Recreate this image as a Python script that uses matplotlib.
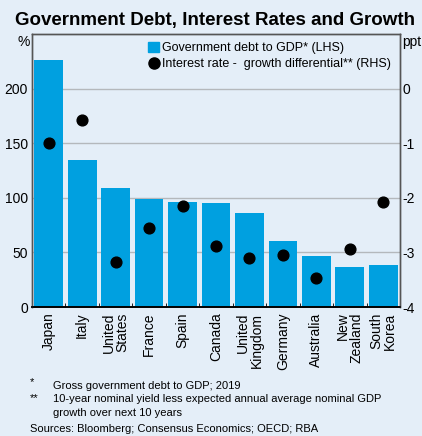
"""
Government debt vs interest rate - growth differential, RBA style chart.
"""
import numpy as np
import matplotlib.pyplot as plt
from matplotlib.lines import Line2D
from matplotlib.patches import Patch

plt.rcParams['font.family'] = ['Liberation Sans', 'DejaVu Sans']

countries = ['Japan', 'Italy', 'United\nStates', 'France', 'Spain', 'Canada',
             'United\nKingdom', 'Germany', 'Australia', 'New\nZealand', 'South\nKorea']
debt_to_gdp = [226, 135, 109, 98.5, 96, 95, 86, 60, 46.5, 37, 38.5]
rate_growth_diff = [-1.0, -0.58, -3.17, -2.56, -2.15, -2.88, -3.10, -3.05, -3.46, -2.93, -2.07]

BG = '#E4EEF8'
BAR = '#00A0E0'
FRAME = '#555555'

fig = plt.figure(figsize=(4.22, 4.36), dpi=100, facecolor=BG)
ax = fig.add_axes([32 / 422, 1 - 307 / 436, 368 / 422, 273 / 436])
ax.set_facecolor(BG)

x = np.arange(len(countries))
ax.bar(x, debt_to_gdp, width=0.86, color=BAR, zorder=2)
ax.set_ylim(0, 250)
ax.set_xlim(-0.5, len(countries) - 0.5)
ax.set_yticks([0, 50, 100, 150, 200])
ax.grid(axis='y', color='#B4B8BC', linewidth=1, zorder=0)
ax.tick_params(axis='y', length=0, labelsize=10, pad=3)
ax.set_xticks(x)
ax.set_xticklabels(countries, rotation=90, fontsize=10, va='top', ha='center',
                   multialignment='right', linespacing=1.0)
ax.set_xticks(np.arange(len(countries) - 1) + 0.5, minor=True)
ax.tick_params(axis='x', which='major', length=0, pad=4)
ax.tick_params(axis='x', which='minor', direction='in', length=3, color='black')

ax2 = ax.twinx()
ax2.scatter(x, rate_growth_diff, s=60, color='black', zorder=3)
ax2.set_ylim(-4, 1)
ax2.set_yticks([-4, -3, -2, -1, 0])
ax2.set_yticklabels(['-4', '-3', '-2', '-1', '0'])
ax2.tick_params(axis='y', length=0, labelsize=10, pad=2)

for a in (ax, ax2):
    for side in ('left', 'right', 'top'):
        a.spines[side].set_color(FRAME)
        a.spines[side].set_linewidth(1)
    a.spines['bottom'].set_color('black')
    a.spines['bottom'].set_linewidth(1.2)

fig.text(24 / 422, 1 - 42 / 436, '%', fontsize=10, ha='center', va='center')
fig.text(412 / 422, 1 - 42 / 436, 'ppt', fontsize=10, ha='center', va='center')

handles = [Patch(color=BAR), Line2D([], [], marker='o', linestyle='none', color='black', markersize=8)]
labels = ['Government debt to GDP* (LHS)', 'Interest rate -  growth differential** (RHS)']
ax.legend(handles, labels, loc='upper right', bbox_to_anchor=(0.995, 1.0), frameon=False,
          fontsize=9, handlelength=0.9, handleheight=0.9, handletextpad=0.2,
          borderaxespad=0.2, labelspacing=0.3)

fig.text(215 / 422, 1 - 21 / 436, 'Government Debt, Interest Rates and Growth',
         fontsize=13.5, fontweight='bold', ha='center', va='center')

fig.text(30 / 422, 1 - 382 / 436, '*', fontsize=8, ha='left', va='center')
fig.text(53 / 422, 1 - 386 / 436, 'Gross government debt to GDP; 2019', fontsize=8, ha='left', va='center')
fig.text(30 / 422, 1 - 398 / 436, '**', fontsize=8, ha='left', va='center')
fig.text(53 / 422, 1 - 406 / 436,
         '10-year nominal yield less expected annual average nominal GDP\ngrowth over next 10 years',
         fontsize=8, ha='left', va='center', linespacing=1.45)
fig.text(30 / 422, 1 - 429 / 436, 'Sources: Bloomberg; Consensus Economics; OECD; RBA',
         fontsize=8, ha='left', va='center')

fig.savefig('out.png', dpi=100, facecolor=BG)
